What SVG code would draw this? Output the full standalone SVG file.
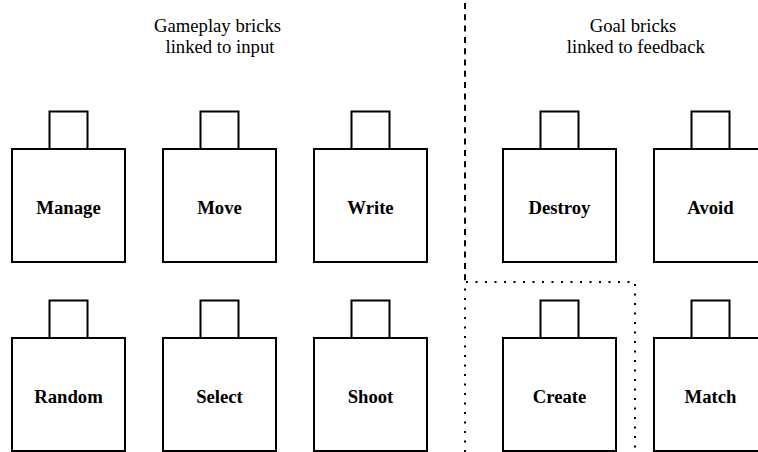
<svg xmlns="http://www.w3.org/2000/svg" width="758" height="452" viewBox="0 0 758 452">
<style>
.box{fill:#fff;stroke:#000;stroke-width:2}
.lbl{font-family:"Liberation Serif","Times New Roman",serif;font-size:18.7px;font-weight:bold;text-anchor:middle;fill:#000}
.hdr{font-family:"Liberation Serif","Times New Roman",serif;font-size:18.7px;text-anchor:middle;fill:#000}
</style>
<defs>
<g id="brick">
<rect class="box" x="37.5" y="-37.5" width="38" height="37.5"/>
<rect class="box" x="0" y="0" width="113" height="113"/>
</g>
</defs>
<rect width="758" height="452" fill="#fff"/>
<g id="headers">
<text class="hdr" x="217.5" y="31.7">Gameplay bricks</text>
<text class="hdr" x="220" y="53.2">linked to input</text>
<text class="hdr" x="633" y="31.7">Goal bricks</text>
<text class="hdr" x="635.8" y="53.2">linked to feedback</text>
</g>
<g id="connectors">
<line x1="465" y1="3" x2="465" y2="282" stroke="#000" stroke-width="2" stroke-dasharray="6 5.3"/>
<polyline points="465,452 465,282 635,282 635,452" fill="none" stroke="#000" stroke-width="2" stroke-dasharray="2 7.5" stroke-dashoffset="0"/>
</g>
<g id="manage"><use href="#brick" x="12" y="149"/><text class="lbl" x="68.5" y="213.5">Manage</text></g>
<g id="move"><use href="#brick" x="163" y="149"/><text class="lbl" x="219.5" y="213.5">Move</text></g>
<g id="write"><use href="#brick" x="314" y="149"/><text class="lbl" x="370.5" y="213.5">Write</text></g>
<g id="destroy"><use href="#brick" x="503" y="149"/><text class="lbl" x="559.5" y="213.5">Destroy</text></g>
<g id="avoid"><use href="#brick" x="654" y="149"/><text class="lbl" x="710.5" y="213.5">Avoid</text></g>
<g id="random"><use href="#brick" x="12" y="338"/><text class="lbl" x="68.5" y="402.5">Random</text></g>
<g id="select"><use href="#brick" x="163" y="338"/><text class="lbl" x="219.5" y="402.5">Select</text></g>
<g id="shoot"><use href="#brick" x="314" y="338"/><text class="lbl" x="370.5" y="402.5">Shoot</text></g>
<g id="create"><use href="#brick" x="503" y="338"/><text class="lbl" x="559.5" y="402.5">Create</text></g>
<g id="match"><use href="#brick" x="654" y="338"/><text class="lbl" x="710.5" y="402.5">Match</text></g>
</svg>
